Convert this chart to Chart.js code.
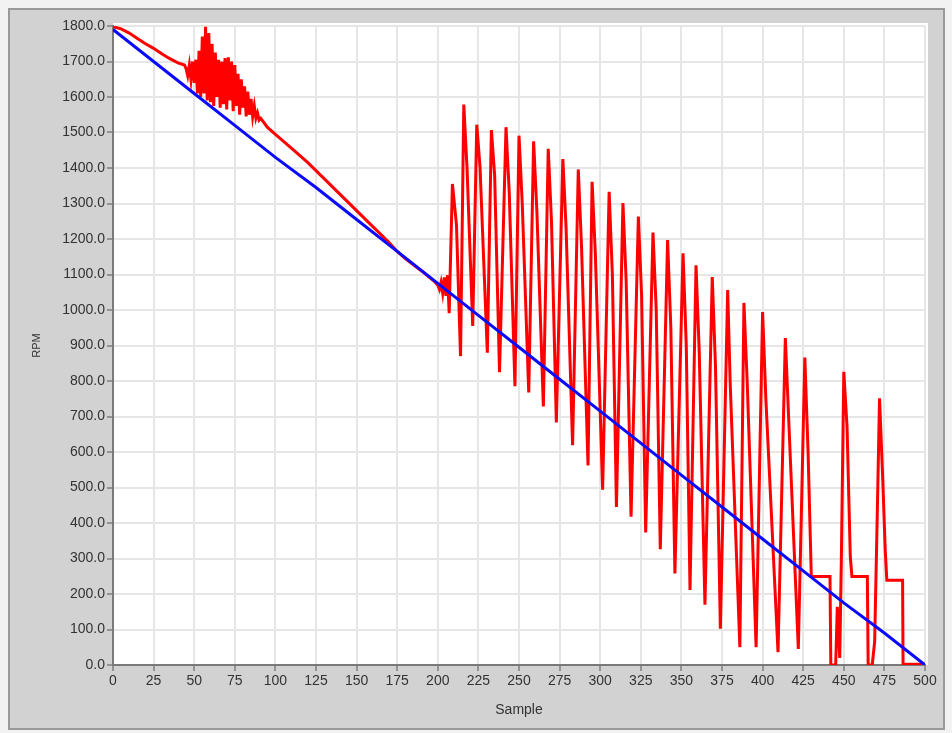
<!DOCTYPE html>
<html>
<head>
<meta charset="utf-8">
<script src="https://cdn.jsdelivr.net/npm/chart.js@4.4.1/dist/chart.umd.min.js"></script>
<style>
html, body { margin: 0; padding: 0; background: #f2f2f2; }
canvas { display: block; }
</style>
</head>
<body>
<canvas id="rpmChart" width="952" height="733"></canvas>
<script>
// Blue reference line (RPM set point), read every 25 samples
const blueSample = [0, 25, 50, 75, 100, 125, 150, 175, 200, 225, 250, 275, 300, 325, 350, 375, 400, 425, 450, 475, 500];
const blueRpm = [1790, 1700, 1610, 1520, 1430, 1345, 1255, 1165, 1075, 985, 895, 805, 715, 625, 535, 445, 355, 265, 175, 90, 0];

const redSample = [
    0, 5, 10, 15, 20, 25, 30, 35, 40, 44,
    45, 46, 47, 48, 49, 50, 51, 52, 53, 54, 55, 56, 57, 58, 59, 60, 61, 62, 63, 64,
    65, 66, 67, 68, 69, 70, 71, 72, 73, 74, 75, 76, 77, 78, 79, 80, 81, 82, 83, 84,
    85, 86, 87, 88, 89, 90, 91,
    95, 100, 110, 120, 130, 140, 150, 160, 170, 175, 180, 190, 198, 200,
    201, 202, 203, 204, 205, 206, 207,
    209, 211.5, 214, 216, 218, 221.5, 224, 226, 230.5, 233, 235, 238, 242, 244, 247.5,
    250, 252, 256, 259, 261, 265, 268, 270, 273, 277, 279, 283, 286.5, 288.5, 292.5,
    295, 297, 301.5, 305.5, 307.5, 310, 314, 316, 319, 323.5, 325.5, 328, 332.5, 334.5, 337,
    341.5, 343.5, 346, 351, 353, 355.3, 359, 361, 364.5, 369, 371, 374, 378.5, 380, 386,
    388.5, 390.5, 396, 400, 402, 409.5, 414, 416, 422, 426, 428, 430, 441.5, 442, 445,
    446, 447.5, 448.5, 450, 452, 454, 455, 464.5, 465, 467.5, 469, 470.5, 472, 474, 475.5,
    476.5, 486.2, 486.5, 500
];
const redRpm = [
    1798, 1792, 1780, 1765, 1750, 1737, 1722, 1708, 1696, 1690,
    1680, 1660, 1690, 1650, 1700, 1640, 1705, 1610, 1730, 1600, 1770, 1610, 1798, 1590, 1780, 1585, 1750, 1575, 1725, 1600,
    1705, 1570, 1700, 1580, 1710, 1565, 1712, 1590, 1700, 1560, 1690, 1575, 1665, 1550, 1650, 1570, 1630, 1545, 1615, 1550,
    1595, 1545, 1575, 1540, 1555, 1535, 1540,
    1515, 1495, 1455, 1415, 1370, 1325, 1280, 1235, 1190, 1165, 1145, 1110, 1080, 1070,
    1058, 1078, 1048, 1092, 1040, 1098, 991,
    1355, 1240, 870, 1579, 1400, 955, 1522, 1402, 880, 1507, 1380, 825, 1515, 1330, 785,
    1491, 1300, 768, 1475, 1280, 728, 1454, 1250, 683, 1425, 1230, 619, 1396, 1180, 562,
    1361, 1160, 494, 1333, 1100, 445, 1301, 1080, 418, 1263, 1040, 373, 1218, 1000, 326,
    1197, 950, 258, 1160, 900, 211, 1126, 880, 170, 1093, 840, 102, 1056, 800, 50,
    1020, 800, 50, 994, 750, 36, 921, 700, 45, 866, 600, 249, 249, 0, 0,
    164, 20, 300, 826, 671, 305, 249, 249, 0, 0, 66, 400, 751, 521, 324,
    239, 239, 2, 2
];

const xTicks = { min: 0, max: 500, step: 25 };
const yTicks = { min: 0, max: 1800, step: 100 };

// grey LabVIEW-style panel behind the plot
const framePlugin = {
    id: "frame",
    beforeDraw(chart) {
        const ctx = chart.ctx;
        const a = chart.chartArea;
        ctx.save();
        ctx.fillStyle = "#f2f2f2";
        ctx.fillRect(0, 0, chart.width, chart.height);
        ctx.fillStyle = "#d2d2d2";
        ctx.fillRect(9, 9, 935, 720);
        ctx.strokeStyle = "#999999";
        ctx.lineWidth = 2;
        ctx.strokeRect(9, 9, 935, 720);
        ctx.fillStyle = "#ffffff";
        ctx.fillRect(a.left, a.top - 3, a.right - a.left + 3, a.bottom - a.top + 3);
        ctx.restore();
    }
};

const tickFont = { family: "'Liberation Sans', Arial, sans-serif", size: 14 };

new Chart(document.getElementById("rpmChart").getContext("2d"), {
    type: "scatter",
    data: {
        datasets: [
            {
                label: "Set point",
                data: blueSample.map((s, i) => ({ x: s, y: blueRpm[i] })),
                showLine: true,
                borderColor: "#0a0aff",
                borderWidth: 3,
                pointRadius: 0,
                order: 0
            },
            {
                label: "RPM",
                data: redSample.map((s, i) => ({ x: s, y: redRpm[i] })),
                showLine: true,
                borderColor: "#ff0000",
                borderWidth: 3,
                pointRadius: 0,
                order: 1
            }
        ]
    },
    options: {
        responsive: false,
        animation: false,
        layout: { padding: { top: 26, right: 27, left: 0, bottom: 0 } },
        plugins: {
            legend: { display: false },
            tooltip: { enabled: false }
        },
        scales: {
            x: {
                type: "linear",
                min: xTicks.min,
                max: xTicks.max,
                afterFit(scale) { scale.height = 68; },
                ticks: {
                    stepSize: xTicks.step,
                    color: "#333",
                    font: tickFont,
                    padding: 2,
                    maxRotation: 0
                },
                grid: { color: "#e6e6e6", lineWidth: 2, tickColor: "#555", tickLength: 6, tickWidth: 1 },
                border: { color: "#7a7a7a", width: 2 },
                title: {
                    display: true,
                    text: "Sample",
                    color: "#333",
                    font: { family: "'Liberation Sans', Arial, sans-serif", size: 14 },
                    padding: { top: 0, bottom: 14 }
                }
            },
            y: {
                min: yTicks.min,
                max: yTicks.max,
                afterFit(scale) { scale.width = 113; },
                ticks: {
                    stepSize: yTicks.step,
                    color: "#333",
                    font: tickFont,
                    padding: 2,
                    callback: (v) => v.toFixed(1)
                },
                grid: { color: "#e6e6e6", lineWidth: 2, tickColor: "#555", tickLength: 6, tickWidth: 1 },
                border: { color: "#7a7a7a", width: 2 },
                title: {
                    display: true,
                    text: "RPM",
                    color: "#333",
                    font: { family: "'Liberation Sans', Arial, sans-serif", size: 11 },
                    padding: { top: 30, bottom: 0 }
                }
            }
        }
    },
    plugins: [framePlugin]
});
</script>
</body>
</html>
